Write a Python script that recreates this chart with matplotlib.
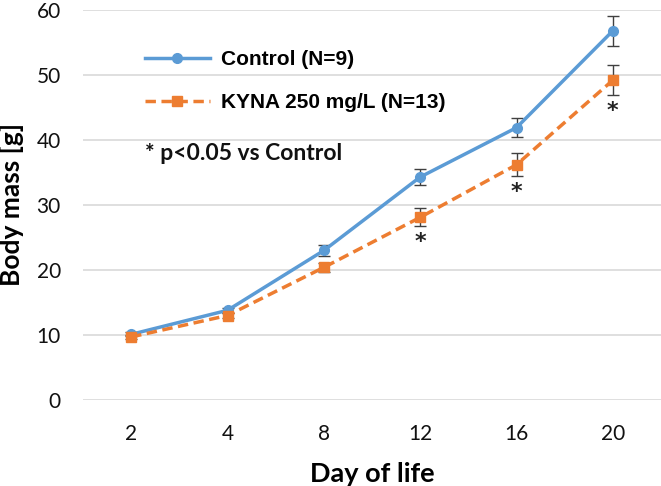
import matplotlib
matplotlib.use("Agg")
import matplotlib.pyplot as plt
from matplotlib.lines import Line2D
import numpy as np

days = ["2", "4", "8", "12", "16", "20"]
control = [10.1, 13.8, 23.0, 34.3, 41.9, 56.8]
control_err = [0.3, 0.4, 0.8, 1.3, 1.5, 2.3]
kyna = [9.7, 13.0, 20.4, 28.1, 36.2, 49.2]
kyna_err = [0.3, 0.4, 0.7, 1.4, 1.8, 2.3]
significant = [False, False, False, True, True, True]
labels = ["Control (N=9)", "KYNA 250 mg/L (N=13)"]

blue = "#5B9BD5"
orange = "#ED7D31"
dash = (0, (3, 1.6))

fig = plt.figure(figsize=(6.61, 4.86), dpi=100)
ax = fig.add_axes([83/661, 86/486, 578/661, 390/486])

x = np.arange(len(days))
ax.errorbar(x, control, yerr=control_err, color=blue, lw=2.5, marker="o", ms=7,
            ecolor="#404040", elinewidth=1.0, capsize=4.3, capthick=1.0, zorder=3)
ax.errorbar(x, kyna, yerr=kyna_err, color=orange, lw=2.5, ls=dash, marker="s", ms=7,
            ecolor="#404040", elinewidth=1.0, capsize=4.3, capthick=1.0, zorder=3)

for xi, v, e, s in zip(x, kyna, kyna_err, significant):
    if s:
        ax.annotate("*", (xi, v - e), xytext=(0, -4), textcoords="offset points",
                    ha="center", va="top", fontsize=16, fontweight="bold", color="#222222")

ax.set_xlim(-0.5, len(days) - 0.5)
ax.set_ylim(0, 60)
ax.set_yticks(np.arange(0, 61, 10))
ax.set_xticks(x)
ax.set_xticklabels(days)
ax.yaxis.grid(True, color="#D9D9D9", lw=1.2)
ax.set_axisbelow(True)
for sp in ax.spines.values():
    sp.set_visible(False)
ax.tick_params(length=0, labelsize=15, colors="#111111")
ax.tick_params(axis="y", pad=16)
ax.tick_params(axis="x", pad=17)
for lab in ax.get_xticklabels() + ax.get_yticklabels():
    lab.set_family("Lato")

ax.set_xlabel("Day of life", fontsize=19.5, fontweight="bold", family="Lato", labelpad=13)
ax.set_ylabel("Body mass [g]", fontsize=19, fontweight="bold", family="Lato", labelpad=9)

handles = [
    Line2D([], [], color=blue, lw=2.5, marker="o", ms=7),
    Line2D([], [], color=orange, lw=2.5, ls=dash, marker="s", ms=7),
]
fig.legend(handles, labels, loc="upper left", bbox_to_anchor=(145/661, 1 - 50/486),
           bbox_transform=fig.transFigure, frameon=False, borderpad=0, borderaxespad=0,
           prop={"family": "Liberation Sans", "weight": "bold", "size": 15},
           handlelength=3.1, labelspacing=1.15, handletextpad=0.55)

fig.text(145/661, 1 - 153/486, "* p<0.05 vs Control", fontsize=16.5,
         fontweight="bold", family="Lato", va="center", ha="left", color="#111111")

fig.savefig("out.png", dpi=100)
